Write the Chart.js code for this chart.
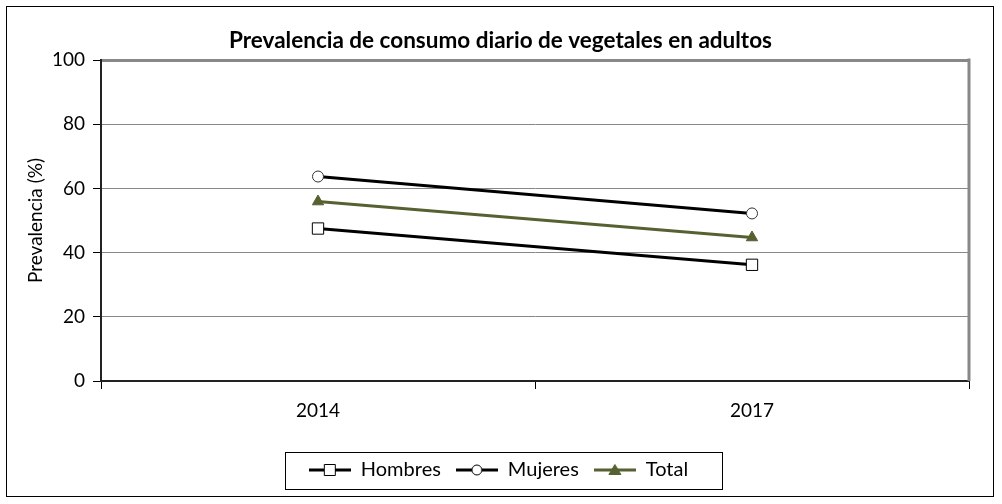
<!DOCTYPE html>
<html>
<head>
<meta charset="utf-8">
<script src="https://cdn.jsdelivr.net/npm/chart.js@4"></script>
<style>
  body { margin: 0; background: #fff; }
  #wrap { width: 1002px; height: 504px; }
</style>
</head>
<body>
<div id="wrap"><canvas id="grafico"></canvas></div>
<script>
const anos = ['2014', '2017'];
const hombres = [47.5, 36.2];
const mujeres = [63.7, 52.2];
const total = [55.9, 44.7];
const ticksY = [0, 20, 40, 60, 80, 100];

const verde = '#556130';
const fuente = "Lato, 'Open Sans', sans-serif";

// icono de leyenda: linea con el marcador en el medio
function iconoLeyenda(tipo, color, relleno) {
    const c = document.createElement('canvas');
    c.width = 42; c.height = 14;
    const ctx = c.getContext('2d');
    ctx.strokeStyle = color;
    ctx.lineWidth = 3;
    ctx.beginPath(); ctx.moveTo(0, 7); ctx.lineTo(42, 7); ctx.stroke();
    ctx.lineWidth = 1;
    ctx.fillStyle = relleno;
    ctx.strokeStyle = tipo === 'triangle' ? color : '#000';
    ctx.beginPath();
    if (tipo === 'rect') ctx.rect(15.5, 1.5, 11, 11);
    else if (tipo === 'circle') ctx.arc(21, 7, 5, 0, Math.PI * 2);
    else { ctx.moveTo(21, 1.5); ctx.lineTo(27, 11.5); ctx.lineTo(15, 11.5); ctx.closePath(); }
    ctx.fill(); ctx.stroke();
    return c;
}

const marcos = {
    id: 'marcos',
    afterLayout(chart) {
        // centrar titulo y leyenda sobre todo el grafico, no solo a la izquierda del margen
        chart.titleBlock.left += 16;
        chart.titleBlock.right += 16;
        chart.legend.left += 14;
        chart.legend.right += 14;
    },
    afterDraw(chart) {
        const ctx = chart.ctx;
        const a = chart.chartArea;
        ctx.save();
        // borde derecho del area
        ctx.strokeStyle = '#888';
        ctx.lineWidth = 3;
        ctx.beginPath(); ctx.moveTo(a.right, a.top - 1.5); ctx.lineTo(a.right, a.bottom); ctx.stroke();
        // marco exterior
        ctx.strokeStyle = '#000';
        ctx.lineWidth = 1;
        ctx.strokeRect(6.5, 6.5, 987, 490);
        // caja de la leyenda
        ctx.strokeRect(285.5, 452.5, 437, 37);
        ctx.restore();
    }
};

new Chart(document.getElementById('grafico'), {
    type: 'line',
    data: {
        labels: anos,
        datasets: [{
            label: 'Hombres',
            data: hombres,
            borderColor: '#000',
            borderWidth: 3,
            pointStyle: 'rect',
            pointRadius: 8,
            pointBackgroundColor: '#fff',
            pointBorderColor: '#000',
            pointBorderWidth: 1,
            legendIcon: iconoLeyenda('rect', '#000', '#fff')
        }, {
            label: 'Mujeres',
            data: mujeres,
            borderColor: '#000',
            borderWidth: 3,
            pointStyle: 'circle',
            pointRadius: 5.5,
            pointBackgroundColor: '#fff',
            pointBorderColor: '#333',
            pointBorderWidth: 1,
            legendIcon: iconoLeyenda('circle', '#000', '#fff')
        }, {
            label: 'Total',
            data: total,
            borderColor: verde,
            borderWidth: 3,
            pointStyle: 'triangle',
            pointRadius: 6.5,
            pointBackgroundColor: verde,
            pointBorderColor: verde,
            pointBorderWidth: 1,
            legendIcon: iconoLeyenda('triangle', verde, verde)
        }]
    },
    options: {
        responsive: true,
        maintainAspectRatio: false,
        animation: false,
        layout: { padding: { left: 0, right: 33, top: 0, bottom: 14 } },
        plugins: {
            title: {
                display: true,
                text: 'Prevalencia de consumo diario de vegetales en adultos',
                color: '#000',
                font: { family: fuente, size: 22.5, weight: 'bold' },
                padding: { top: 27, bottom: 6 }
            },
            legend: {
                position: 'bottom',
                labels: {
                    color: '#000',
                    font: { family: fuente, size: 20 },
                    usePointStyle: true,
                    boxWidth: 42,
                    pointStyleWidth: 42,
                    padding: 15,
                    generateLabels(chart) {
                        return chart.data.datasets.map((ds, i) => ({
                            text: ds.label,
                            pointStyle: ds.legendIcon,
                            fontColor: '#000',
                            hidden: false,
                            datasetIndex: i,
                            lineWidth: 0
                        }));
                    }
                }
            },
            tooltip: { enabled: false }
        },
        scales: {
            x: {
                offset: true,
                grid: {
                    offset: true,
                    drawOnChartArea: false,
                    drawTicks: true,
                    tickLength: 8,
                    tickColor: '#000'
                },
                border: { color: '#222', width: 2 },
                ticks: { color: '#000', font: { family: fuente, size: 19 }, padding: 10 },
                afterFit(scale) { scale.height = 64; }
            },
            y: {
                min: 0,
                max: 100,
                afterBuildTicks(scale) { scale.ticks = ticksY.map(v => ({ value: v })); },
                grid: {
                    color: ctx => ctx.tick && ctx.tick.value === 0 ? 'rgba(0,0,0,0)' : '#888',
                    lineWidth: ctx => ctx.tick && ctx.tick.value === 100 ? 3 : 1,
                    tickColor: '#000',
                    tickWidth: 1,
                    tickLength: 8
                },
                border: { color: '#222', width: 2 },
                ticks: { color: '#000', font: { family: fuente, size: 19 }, padding: 8 },
                title: {
                    display: true,
                    text: 'Prevalencia (%)',
                    color: '#000',
                    font: { family: fuente, size: 19 },
                    padding: { top: 24, bottom: 0 }
                },
                afterFit(scale) { scale.width = 101; }
            }
        }
    },
    plugins: [marcos]
});
</script>
</body>
</html>
